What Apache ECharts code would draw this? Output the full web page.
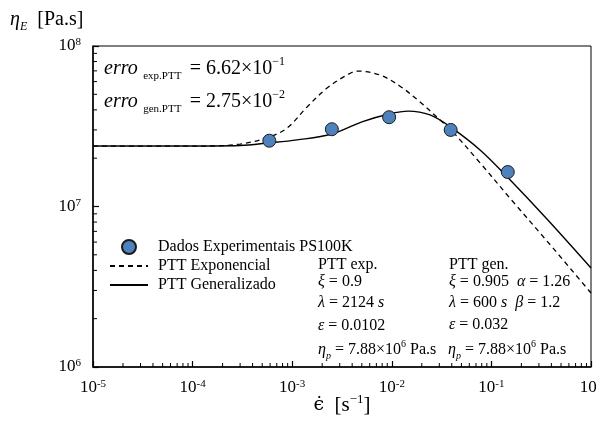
<!DOCTYPE html>
<html>
<head>
<meta charset="utf-8">
<script src="https://cdn.jsdelivr.net/npm/echarts@6/dist/echarts.min.js"></script>
<style>
  html, body { margin: 0; padding: 0; background: #fff; }
  #chart { width: 596px; height: 423px; }
</style>
</head>
<body>
<div id="chart"></div>
<script>
// pontos experimentais (PS100K)
const strainRate = [5.89e-4, 2.5e-3, 9.4e-3, 3.9e-2, 0.146];
const etaData = [2.57e7, 3.03e7, 3.60e7, 3.00e7, 1.64e7];

// PTT exponencial (tracejado)
const expX = [1e-5, 1.19e-4, 3.0e-4, 5.85e-4, 8.87e-4, 1.41e-3, 2.24e-3, 3.55e-3, 4.58e-3, 7.62e-3, 1.21e-2, 1.92e-2, 3.05e-2, 3.93e-2, 7.69e-2, 0.165, 0.361, 1];
const expY = [2.38e7, 2.38e7, 2.45e7, 2.71e7, 3.08e7, 4.17e7, 5.47e7, 6.59e7, 6.98e7, 6.59e7, 5.62e7, 4.48e7, 3.46e7, 3.00e7, 1.87e7, 1.07e7, 6.10e6, 2.89e6];

// PTT generalizado (continuo)
const genX = [1e-5, 7.5e-5, 3.0e-4, 5.85e-4, 1.12e-3, 2.5e-3, 5.1e-3, 9.4e-3, 1.46e-2, 2.42e-2, 3.93e-2, 7.69e-2, 0.147, 0.361, 1];
const genY = [2.38e7, 2.38e7, 2.40e7, 2.49e7, 2.60e7, 2.83e7, 3.38e7, 3.77e7, 3.93e7, 3.72e7, 3.11e7, 2.25e7, 1.51e7, 8.36e6, 4.14e6];

const xRange = [1e-5, 1];
const yRange = [1e6, 1e8];

// ticks menores 2..9 x 10^k
const xMinor = [];
for (let k = -5; k < 0; k++) for (let m = 2; m <= 9; m++) xMinor.push(m * Math.pow(10, k));
const yMinor = [];
for (let k = 6; k < 8; k++) for (let m = 2; m <= 9; m++) yMinor.push(m * Math.pow(10, k));

const FONT = "'Liberation Serif', 'DejaVu Serif', serif";

const tickRich = {
  b: { fontFamily: FONT, fontSize: 17, color: '#000', lineHeight: 18, verticalAlign: 'middle' },
  sup: { fontFamily: FONT, fontSize: 11, color: '#000', lineHeight: 11, verticalAlign: 'top' }
};
function powLabel(v) {
  const e = Math.round(Math.log10(v));
  return '{b|10}{sup|' + e + '}';
}

const eqRich = (size) => ({
  n: { fontFamily: FONT, fontSize: size, color: '#000', lineHeight: size + 6, verticalAlign: 'middle' },
  it: { fontFamily: FONT, fontSize: size, fontStyle: 'italic', color: '#000', lineHeight: size + 6, verticalAlign: 'middle' },
  sub: { fontFamily: FONT, fontSize: Math.round(size * 0.55), color: '#000', lineHeight: Math.round(size * 0.6), verticalAlign: 'bottom' },
  subi: { fontFamily: FONT, fontSize: Math.round(size * 0.6), fontStyle: 'italic', color: '#000', lineHeight: Math.round(size * 0.6), verticalAlign: 'bottom' },
  sup: { fontFamily: FONT, fontSize: Math.round(size * 0.6), color: '#000', lineHeight: Math.round(size * 0.6), verticalAlign: 'top' }
});

function txt(x, y, text, size) {
  return {
    type: 'text', x: x, y: y, silent: true,
    style: { text: text, rich: eqRich(size), verticalAlign: 'middle', align: 'left' }
  };
}

const chart = echarts.init(document.getElementById('chart'), null, { renderer: 'canvas' });

const noSymbol = { color: 'rgba(0,0,0,0)', borderWidth: 0, opacity: 0 };

chart.setOption({
  animation: false,
  backgroundColor: '#fff',
  grid: {
    left: 93, right: 5, top: 46, bottom: 56,
    containLabel: false, outerBoundsMode: 'none',
    show: true, borderColor: '#000', borderWidth: 1
  },
  legend: {
    orient: 'vertical', left: 104, top: 234,
    itemWidth: 38, itemHeight: 14, itemGap: 3,
    textStyle: { fontFamily: FONT, fontSize: 16, lineHeight: 16, color: '#000', padding: [0, 0, 0, 5] },
    data: [
      { name: 'Dados Experimentais PS100K' },
      { name: 'PTT Exponencial', itemStyle: noSymbol },
      { name: 'PTT Generalizado', itemStyle: noSymbol }
    ]
  },
  xAxis: {
    type: 'log', logBase: 10, min: xRange[0], max: xRange[1],
    axisLine: { lineStyle: { color: '#000', width: 1.5 } },
    axisTick: { inside: true, length: 6, lineStyle: { color: '#000', width: 1.2 } },
    axisLabel: { margin: 12, formatter: powLabel, rich: tickRich, hideOverlap: false },
    splitLine: { show: false }
  },
  yAxis: {
    type: 'log', logBase: 10, min: yRange[0], max: yRange[1],
    axisLine: { lineStyle: { color: '#000', width: 1.5 } },
    axisTick: { inside: true, length: 6, lineStyle: { color: '#000', width: 1.2 } },
    axisLabel: { margin: 12, formatter: powLabel, rich: tickRich },
    splitLine: { show: false }
  },
  graphic: [
    // titulo do eixo y
    {
      type: 'text', x: 10, y: 20, silent: true,
      style: { text: '{it|η}{subi|E}{n|  [Pa.s]}', rich: eqRich(20), verticalAlign: 'middle' }
    },
    // titulo do eixo x
    {
      type: 'text', x: 342, y: 405, silent: true,
      style: {
        text: '{e|ϵ̇}{n|  [s}{sup|−1}{n|]}', align: 'center', verticalAlign: 'middle',
        rich: {
          e: { fontFamily: "'DejaVu Serif', serif", fontSize: 19, color: '#000', lineHeight: 24, verticalAlign: 'middle' },
          n: { fontFamily: FONT, fontSize: 21, color: '#000', lineHeight: 24, verticalAlign: 'middle' },
          sup: { fontFamily: FONT, fontSize: 13, color: '#000', lineHeight: 13, verticalAlign: 'top' }
        }
      }
    },
    txt(104, 69, '{it|erro}{sub|  exp.PTT} {n| = 6.62×10}{sup|−1}', 20),
    txt(104, 102, '{it|erro}{sub|  gen.PTT} {n| = 2.75×10}{sup|−2}', 20),

    txt(318, 265, '{n|PTT exp.}', 16),
    txt(318, 282, '{it|ξ}{n| = 0.9}', 16),
    txt(318, 303, '{it|λ}{n| = 2124 }{it|s}', 16),
    txt(318, 326, '{it|ε}{n| = 0.0102}', 16),
    txt(318, 350, '{it|η}{subi|p}{n| = 7.88×10}{sup|6}{n| Pa.s}', 16),

    txt(449, 265, '{n|PTT gen.}', 16),
    txt(449, 282, '{it|ξ}{n| = 0.905  }{it|α}{n| = 1.26}', 16),
    txt(449, 303, '{it|λ}{n| = 600 }{it|s}{n|  }{it|β}{n| = 1.2}', 16),
    txt(449, 325, '{it|ε}{n| = 0.032}', 16),
    txt(448, 350, '{it|η}{subi|p}{n| = 7.88×10}{sup|6}{n| Pa.s}', 16)
  ],
  series: [
    {
      name: 'PTT Exponencial', type: 'line', smooth: 0.35, symbol: 'none',
      lineStyle: { color: '#000', width: 1.3, type: [5, 4] },
      itemStyle: { color: '#000' },
      data: expX.map((x, i) => [x, expY[i]]),
      z: 3
    },
    {
      name: 'PTT Generalizado', type: 'line', smooth: 0.35, symbol: 'none',
      lineStyle: { color: '#000', width: 1.4 },
      itemStyle: { color: '#000' },
      data: genX.map((x, i) => [x, genY[i]]),
      z: 3
    },
    {
      name: 'Dados Experimentais PS100K', type: 'scatter', symbol: 'circle', symbolSize: 13,
      itemStyle: { color: '#4f81bd', borderColor: '#1a1a1a', borderWidth: 1, opacity: 1 },
      data: strainRate.map((x, i) => [x, etaData[i]]),
      z: 5
    },
    {
      // ticks menores do eixo x
      type: 'custom', silent: true, clip: false,
      data: xMinor.map(v => [v, yRange[0]]),
      renderItem: (params, api) => {
        const p = api.coord([api.value(0), api.value(1)]);
        return { type: 'line', shape: { x1: p[0], y1: p[1], x2: p[0], y2: p[1] - 4 }, style: { stroke: '#000', lineWidth: 1 } };
      }
    },
    {
      // ticks menores do eixo y
      type: 'custom', silent: true, clip: false,
      data: yMinor.map(v => [xRange[0], v]),
      renderItem: (params, api) => {
        const p = api.coord([api.value(0), api.value(1)]);
        return { type: 'line', shape: { x1: p[0], y1: p[1], x2: p[0] + 4, y2: p[1] }, style: { stroke: '#000', lineWidth: 1 } };
      }
    }
  ]
});
</script>
</body>
</html>
